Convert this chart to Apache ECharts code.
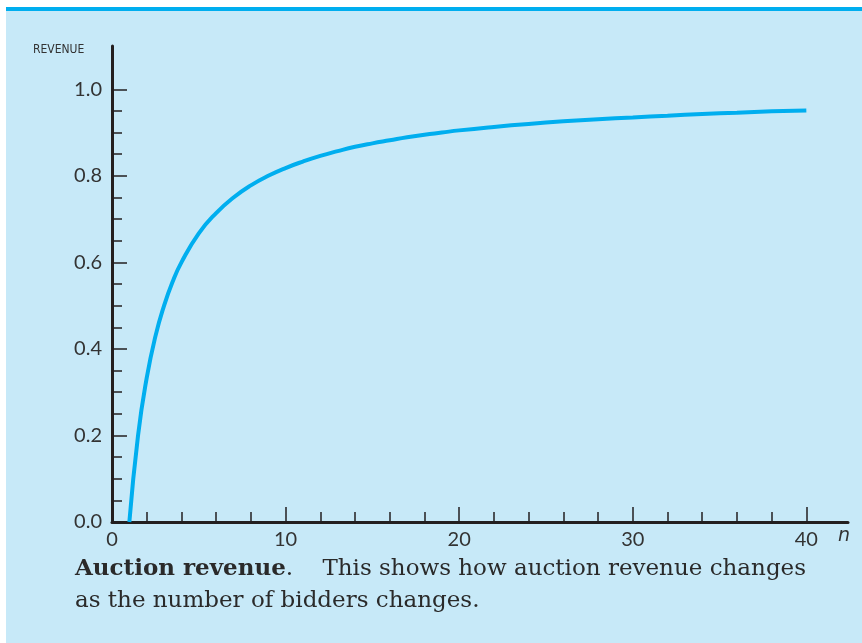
<!DOCTYPE html>
<html><head><meta charset="utf-8">
<script src="https://cdn.jsdelivr.net/npm/echarts@6/dist/echarts.min.js"></script>
<style>html,body{margin:0;padding:0;background:#fff}#c{width:862px;height:643px}</style>
</head><body><div id="c"></div>
<script>
// number of bidders n
const bidders = [1, 1.5, 2, 2.5, 3, 3.5, 4, 5, 6, 7, 8, 9, 10, 11, 12, 13, 14, 15, 16, 17, 18, 19, 20, 22, 24, 26, 28, 30, 32, 34, 36, 38, 40];
// revenue
const revenue = [0, 0.2, 0.333, 0.429, 0.5, 0.556, 0.6, 0.667, 0.714, 0.75, 0.778, 0.8, 0.818, 0.833, 0.846, 0.857, 0.867, 0.875, 0.882, 0.889, 0.895, 0.9, 0.905, 0.913, 0.92, 0.926, 0.931, 0.935, 0.939, 0.943, 0.946, 0.949, 0.951];
const xTicks = [0, 10, 20, 30, 40];
const yTicks = [0, 0.2, 0.4, 0.6, 0.8, 1.0];

const axisColor = '#231f20';
const W = 862, H = 643;
const gLeft = 112, gBottom = 121, gRight = 14, gTop = 46;
const xLineMax = 42.4, yLineMax = 1.1;
const xMax = 40, yMax = 1.0;
const pxPerX = (W - gLeft - gRight) / xLineMax;
const pxPerY = (H - gTop - gBottom) / yLineMax;
const innerRight = W - gLeft - pxPerX * xMax;
const innerTop = H - gBottom - pxPerY * yMax;

const tickStyle = {color: axisColor, width: 1.5};
const labelStyle = {color: '#333', fontFamily: 'Lato', fontSize: 20};

const chart = echarts.init(document.getElementById('c'), null, {renderer: 'canvas'});
chart.setOption({
  animation: false,
  backgroundColor: 'transparent',
  grid: [
    {left: gLeft, right: gRight, top: gTop, bottom: gBottom},
    {left: gLeft, right: innerRight, top: innerTop, bottom: gBottom}
  ],
  xAxis: [
    {gridIndex: 0, type: 'value', min: 0, max: xLineMax,
      axisLine: {show: true, lineStyle: {color: axisColor, width: 3}},
      axisTick: {show: false}, axisLabel: {show: false}, splitLine: {show: false}},
    {gridIndex: 1, type: 'value', min: 0, max: xMax, interval: 10,
      axisLine: {show: false},
      axisTick: {show: true, inside: true, length: 15, lineStyle: tickStyle},
      minorTick: {show: true, splitNumber: 5, length: 10, lineStyle: tickStyle},
      splitLine: {show: false},
      axisLabel: Object.assign({show: true, margin: 8,
        formatter: v => xTicks.includes(v) ? String(v) : ''}, labelStyle)}
  ],
  yAxis: [
    {gridIndex: 0, type: 'value', min: 0, max: yLineMax,
      axisLine: {show: true, lineStyle: {color: axisColor, width: 3}},
      axisTick: {show: false}, axisLabel: {show: false}, splitLine: {show: false}},
    {gridIndex: 1, type: 'value', min: 0, max: yMax, interval: 0.2,
      axisLine: {show: false},
      axisTick: {show: true, inside: true, length: 15, lineStyle: tickStyle},
      minorTick: {show: true, splitNumber: 4, length: 10, lineStyle: tickStyle},
      splitLine: {show: false},
      axisLabel: Object.assign({show: true, margin: 10,
        formatter: v => yTicks.some(t => Math.abs(t - v) < 1e-9) ? v.toFixed(1) : ''}, labelStyle)}
  ],
  series: [{
    type: 'line', smooth: true, showSymbol: false, xAxisIndex: 1, yAxisIndex: 1,
    data: bidders.map((n, i) => [n, revenue[i]]),
    lineStyle: {color: '#00aeef', width: 4}
  }],
  graphic: [
    {type: 'rect', z: -10, silent: true, shape: {x: 6, y: 7, width: 856, height: 636}, style: {fill: '#c7e9f8'}},
    {type: 'rect', z: -9, silent: true, shape: {x: 6, y: 7, width: 856, height: 4}, style: {fill: '#00aeef'}},
    {type: 'text', left: 33, top: 44, style: {text: 'REVENUE', fontFamily: '"DejaVu Sans Condensed", "Lato"', fontSize: 12, fill: '#333'}},
    {type: 'text', left: 838, top: 527, style: {text: 'n', fontFamily: 'DejaVu Sans', fontStyle: 'italic', fontSize: 19, fill: '#333'}},
    {type: 'text', left: 75, top: 558, style: {
      text: '{b|Auction revenue}{r|.    This shows how auction revenue changes}\n{r|as the number of bidders changes.}',
      rich: {
        b: {fontFamily: 'DejaVu Serif', fontWeight: 'bold', fontSize: 23, fill: '#2a2a2a', lineHeight: 32},
        r: {fontFamily: 'DejaVu Serif', fontSize: 23, fill: '#2a2a2a', lineHeight: 32}
      }
    }}
  ]
});
</script></body></html>
